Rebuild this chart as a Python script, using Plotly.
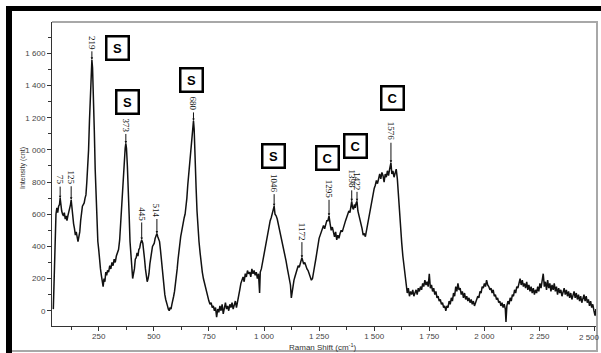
import plotly.graph_objects as go

# Raman spectrum (shift in cm^-1, intensity in counts)
raman_shift = [
    44, 48, 52, 56, 60, 64, 68, 72, 75, 78, 82, 86, 90, 94, 98, 102, 106, 110, 114, 118,
    122, 125, 128, 132, 136, 140, 144, 148, 152, 156, 160, 164, 168, 172, 176, 180, 184, 188, 192, 196,
    200, 204, 208, 212, 216, 219, 222, 226, 230, 234, 238, 242, 246, 250, 254, 258, 262, 266, 270, 274,
    278, 282, 286, 290, 295, 300, 305, 310, 315, 320, 325, 330, 335, 340, 345, 350, 355, 360, 365, 370,
    373, 376, 380, 384, 388, 392, 396, 400, 404, 408, 412, 416, 420, 424, 428, 432, 436, 440, 445, 450,
    454, 458, 462, 466, 470, 474, 478, 482, 486, 490, 494, 498, 502, 506, 510, 514, 518, 522, 526, 530,
    534, 538, 542, 546, 550, 554, 558, 562, 566, 570, 574, 578, 582, 586, 590, 594, 598, 602, 606, 610,
    614, 618, 622, 626, 630, 634, 638, 642, 646, 650, 654, 658, 662, 666, 670, 674, 677, 680, 683, 686,
    689, 692, 696, 700, 705, 710, 715, 720, 725, 730, 735, 740, 745, 750, 755, 760, 765, 770, 775, 780,
    785, 790, 795, 800, 805, 810, 815, 820, 825, 830, 835, 840, 845, 850, 855, 860, 865, 870, 875, 880,
    885, 890, 895, 900, 905, 910, 915, 920, 925, 930, 935, 940, 945, 950, 955, 960, 965, 970, 975, 980,
    983, 988, 993, 998, 1003, 1008, 1013, 1018, 1023, 1028, 1033, 1038, 1043, 1046, 1050, 1055, 1060, 1065, 1070, 1075,
    1080, 1085, 1090, 1095, 1100, 1105, 1110, 1115, 1120, 1124, 1128, 1132, 1136, 1140, 1145, 1150, 1155, 1160, 1165, 1170,
    1172, 1176, 1180, 1185, 1190, 1195, 1200, 1205, 1210, 1215, 1220, 1225, 1230, 1235, 1240, 1245, 1250, 1255, 1260, 1265,
    1270, 1275, 1280, 1285, 1290, 1295, 1300, 1305, 1310, 1315, 1320, 1325, 1330, 1335, 1340, 1345, 1350, 1355, 1360, 1365,
    1370, 1375, 1380, 1385, 1390, 1395, 1398, 1402, 1406, 1410, 1414, 1418, 1422, 1426, 1430, 1435, 1440, 1445, 1450, 1455,
    1460, 1465, 1470, 1475, 1480, 1485, 1490, 1495, 1500, 1505, 1510, 1515, 1520, 1525, 1530, 1535, 1540, 1545, 1550, 1555,
    1560, 1565, 1570, 1576, 1580, 1585, 1590, 1595, 1600, 1605, 1610, 1615, 1620, 1625, 1630, 1635, 1640, 1645, 1650, 1655,
    1660, 1665, 1670, 1675, 1680, 1685, 1690, 1695, 1700, 1705, 1710, 1715, 1720, 1725, 1730, 1735, 1740, 1745, 1750, 1755,
    1760, 1765, 1770, 1775, 1780, 1785, 1790, 1795, 1800, 1805, 1810, 1815, 1820, 1825, 1830, 1835, 1840, 1845, 1850, 1855,
    1860, 1865, 1870, 1875, 1880, 1885, 1890, 1895, 1900, 1905, 1910, 1915, 1920, 1925, 1930, 1935, 1940, 1945, 1950, 1955,
    1960, 1965, 1970, 1975, 1980, 1985, 1990, 1995, 2000, 2005, 2010, 2015, 2020, 2025, 2030, 2035, 2040, 2045, 2050, 2055,
    2060, 2065, 2070, 2075, 2080, 2085, 2090, 2095, 2098, 2102, 2107, 2112, 2117, 2122, 2127, 2132, 2137, 2142, 2147, 2152,
    2157, 2162, 2167, 2172, 2177, 2182, 2187, 2192, 2197, 2202, 2207, 2212, 2217, 2222, 2227, 2232, 2237, 2242, 2247, 2252,
    2257, 2262, 2267, 2272, 2277, 2282, 2287, 2292, 2297, 2302, 2307, 2312, 2317, 2322, 2327, 2332, 2337, 2342, 2347, 2352,
    2357, 2362, 2367, 2372, 2377, 2382, 2387, 2392, 2397, 2402, 2407, 2412, 2417, 2422, 2427, 2432, 2437, 2442, 2447, 2452,
    2457, 2462, 2467, 2472, 2477, 2482, 2487, 2492, 2497, 2502, 2506, 2510,
]
intensity = [
    10, 250, 480, 600, 640, 610, 650, 660, 700, 640, 620, 600, 590, 610, 570, 590, 560, 590, 610, 640,
    660, 690, 640, 580, 540, 510, 470, 490, 450, 430, 460, 490, 560, 620, 650, 660, 670, 700, 720, 800,
    880, 1000, 1180, 1380, 1530, 1560, 1510, 1350, 1120, 880, 700, 560, 430, 380, 300, 260, 220, 180, 150, 200,
    180, 240, 220, 250, 240, 280, 260, 300, 280, 320, 300, 340, 360, 380, 440, 560, 700, 800, 920, 1010,
    1040, 1010, 900, 780, 600, 430, 330, 260, 200, 230, 260, 320, 330, 360, 340, 380, 390, 420, 440, 420,
    380, 320, 260, 210, 180, 200, 230, 290, 330, 360, 400, 410, 420, 450, 470, 480, 460, 440, 430, 380,
    320, 250, 190, 140, 100, 70, 40, 30, 10, 0, 20, 10, 40, 60, 90, 120, 160, 200, 260, 320,
    380, 420, 460, 490, 530, 560, 580, 600, 640, 700, 780, 850, 900, 960, 1040, 1090, 1130, 1180, 1130, 1040,
    900, 760, 620, 520, 430, 360, 290, 240, 200, 170, 130, 100, 80, 60, 40, 50, 20, 30, 0, 20,
    -40, 10, -10, 30, 0, 40, -20, 20, 50, 10, 30, 0, 40, 20, 50, 10, 40, 60, 20, 50,
    80, 130, 170, 190, 210, 180, 230, 210, 250, 230, 240, 210, 260, 230, 250, 220, 240, 200, 230, 110,
    240, 260, 300, 330, 370, 400, 440, 480, 530, 560, 580, 610, 620, 650, 600, 590, 570, 540, 500, 470,
    440, 410, 380, 340, 310, 270, 240, 200, 160, 80, 130, 150, 190, 210, 240, 260, 280, 270, 300, 320,
    330, 310, 290, 300, 270, 260, 250, 230, 210, 190, 200, 230, 280, 320, 370, 400, 450, 470, 490, 520,
    530, 510, 540, 560, 560, 590, 540, 500, 520, 480, 460, 490, 440, 470, 450, 480, 500, 490, 520, 540,
    560, 580, 600, 620, 610, 650, 680, 640, 630, 660, 640, 670, 680, 620, 600, 570, 540, 510, 470, 480,
    460, 500, 540, 580, 620, 660, 700, 730, 760, 780, 810, 790, 830, 850, 820, 860, 840, 800, 850, 830,
    870, 840, 880, 920, 850, 870, 830, 860, 880, 820, 700, 600, 500, 420, 340, 280, 230, 160, 110, 140,
    90, 120, 100, 130, 90, 110, 130, 100, 140, 120, 150, 130, 170, 150, 190, 160, 180, 150, 230, 140,
    160, 120, 140, 100, 120, 80, 90, 60, 70, 40, 50, 20, 30, 0, 30, 20, 60, 40, 80, 60,
    110, 90, 150, 120, 170, 130, 140, 100, 120, 80, 110, 70, 90, 60, 80, 50, 70, 40, 60, 30,
    50, 60, 90, 80, 120, 110, 150, 140, 170, 150, 190, 160, 150, 130, 140, 110, 130, 90, 100, 70,
    80, 50, 60, 30, 50, 20, 40, 10, -70, 30, 60, 40, 80, 60, 100, 90, 130, 110, 150, 140,
    180, 200, 160, 190, 150, 170, 140, 180, 130, 160, 120, 150, 110, 140, 100, 130, 110, 150, 120, 170,
    140, 190, 230, 150, 180, 130, 190, 140, 170, 120, 160, 130, 170, 120, 150, 100, 140, 110, 130, 90,
    120, 140, 100, 130, 90, 120, 80, 110, 70, 100, 120, 80, 110, 70, 100, 60, 90, 50, 80, 100,
    60, 90, 50, 70, 30, 60, 20, 40, 0, -30, 10, -40,
]

# Labelled peak positions
peak_shifts = [75, 125, 219, 373, 445, 514, 680, 1046, 1172, 1295, 1398, 1422, 1576]
peak_texts = ["75", "125", "219", "373", "445", "514", "680", "1046", "1172", "1295", "1398", "1422", "1576"]

# Band assignments drawn as boxed letters
band_letters = ["S", "S", "S", "S", "C", "C", "C"]

x_tickvals = [250, 500, 750, 1000, 1250, 1500, 1750, 2000, 2250, 2500]
x_ticktext = ["250", "500", "750", "1 000", "1 250", "1 500", "1 750", "2 000", "2 250", "2 500"]
y_tickvals = [0, 200, 400, 600, 800, 1000, 1200, 1400, 1600]
y_ticktext = ["0", "200", "400", "600", "800", "1 000", "1 200", "1 400", "1 600"]

# ---- layout geometry (pixels) ----
W, H = 601, 353
L, R, T, B = 52, 597, 22, 326
pw, ph = R - L, B - T


def px_x(px):
    return (px - L) / pw


def px_y(py):
    return (B - py) / ph


fig = go.Figure()
fig.add_trace(go.Scatter(
    x=raman_shift, y=intensity, mode="lines",
    line=dict(color="#111111", width=1.5),
    hoverinfo="skip", showlegend=False,
))

# rotated peak labels with short pointers
label_offsets = [-18, -22, -17, -18, -26, -23, -17, -23, -26, -27, -22, -20, -31]
lookup = dict(zip(raman_shift, intensity))
for s, t, off in zip(peak_shifts, peak_texts, label_offsets):
    fig.add_annotation(
        x=s, y=lookup[s], xref="x", yref="y", text=t, textangle=90,
        showarrow=True, ax=0, ay=off, arrowhead=2, arrowsize=0.5, arrowwidth=1,
        arrowcolor="#111111", standoff=0,
        font=dict(family="Liberation Serif", size=9, color="#111111"),
    )

# boxed band letters (centre positions in data units)
box_pos = [(333, 1632), (379, 1296), (673, 1433), (1045, 959),
           (1290, 947), (1413, 1022), (1585, 1321)]
for letter, (bx, by) in zip(band_letters, box_pos):
    fig.add_annotation(
        x=bx, y=by, xref="x", yref="y", text="<b>%s</b>" % letter, showarrow=False,
        font=dict(family="Liberation Sans", size=13, color="black"),
        bordercolor="black", borderwidth=2.5, borderpad=2, bgcolor="white",
        width=16, height=17, align="center", valign="middle",
    )

axis_font = dict(family="Liberation Sans", size=8, color="#444444")

# the last x tick label would run past the page edge, so it is drawn
# as an annotation nudged a little to the left of its tick
axis_ticktext = x_ticktext[:-1] + [""]
fig.add_annotation(
    x=x_tickvals[-1], y=px_y(331), xref="x", yref="paper", showarrow=False,
    xanchor="center", yanchor="top", xshift=-5, text=x_ticktext[-1], font=axis_font,
)

# axis titles
fig.add_annotation(
    x=px_x(323), y=px_y(340), xref="paper", yref="paper", showarrow=False,
    xanchor="center", yanchor="top",
    text="Raman Shift (cm<sup>-1</sup>)",
    font=dict(family="Liberation Sans", size=8, color="#333333"),
)
fig.add_annotation(
    x=px_x(17), y=px_y(168), xref="paper", yref="paper", showarrow=False,
    text="Intensity (cnt)", textangle=-90,
    font=dict(family="Liberation Sans", size=7, color="#333333"),
)

# outer frame: thick black bars on top and left, grey rules elsewhere
shapes = [
    dict(type="rect", xref="paper", yref="paper", x0=px_x(6), x1=px_x(601), y0=px_y(11), y1=px_y(6),
         fillcolor="black", line=dict(width=0), layer="above"),
    dict(type="rect", xref="paper", yref="paper", x0=px_x(6), x1=px_x(12), y0=px_y(353), y1=px_y(6),
         fillcolor="black", line=dict(width=0), layer="above"),
    dict(type="line", xref="paper", yref="paper", x0=px_x(12), x1=px_x(598), y0=px_y(351), y1=px_y(351),
         line=dict(color="#a8a8a8", width=2)),
    dict(type="line", xref="paper", yref="paper", x0=px_x(L), x1=px_x(598), y0=px_y(22), y1=px_y(22),
         line=dict(color="#a8a8a8", width=2)),
    dict(type="line", xref="paper", yref="paper", x0=px_x(597), x1=px_x(597), y0=px_y(351), y1=px_y(22),
         line=dict(color="#a8a8a8", width=2)),
]

fig.update_layout(
    width=W, height=H,
    margin=dict(l=L, r=W - R, t=T, b=H - B, pad=0, autoexpand=False),
    paper_bgcolor="white", plot_bgcolor="white",
    shapes=shapes,
    xaxis=dict(
        range=[38, 2511], showgrid=False, zeroline=False, automargin=False,
        showline=True, linecolor="#333333", linewidth=1,
        ticks="outside", ticklen=4, tickcolor="#333333", tickwidth=1,
        tickvals=x_tickvals, ticktext=axis_ticktext, tickfont=axis_font,
        ticklabelstandoff=-2,
        minor=dict(ticks="outside", ticklen=3, dtick=125, tick0=0, tickcolor="#333333", showgrid=False),
    ),
    yaxis=dict(
        range=[-95, 1795], showgrid=False, zeroline=False, automargin=False,
        showline=True, linecolor="#333333", linewidth=1,
        ticks="outside", ticklen=4, tickcolor="#333333", tickwidth=1,
        tickvals=y_tickvals, ticktext=y_ticktext, tickfont=axis_font,
        minor=dict(ticks="outside", ticklen=3, dtick=100, tick0=0, tickcolor="#333333", showgrid=False),
    ),
)

fig.write_html("out.html")
